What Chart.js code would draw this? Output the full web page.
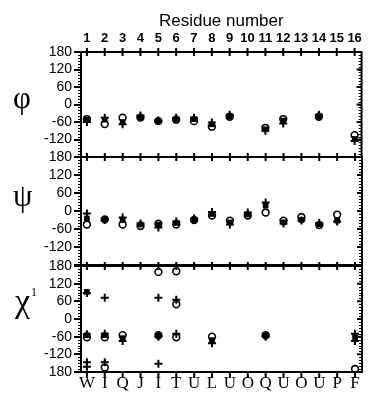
<!DOCTYPE html>
<html>
<head>
<meta charset="utf-8">
<script src="https://cdn.jsdelivr.net/npm/chart.js@4.4.1/dist/chart.umd.min.js"></script>
<style>
	html, body { margin: 0; padding: 0; background: #fff; }
	#wrap { position: relative; width: 368px; height: 395px; overflow: hidden; }
	.layer { position: absolute; left: 0; top: 0; width: 368px; height: 395px; }
	.greek { position: absolute; font-family: "Liberation Serif", "DejaVu Serif", serif; color: #000; line-height: 1; }
	.greek sup { font-size: 12px; position: absolute; left: 100%; top: 2px; margin-left: 1px; }
</style>
</head>
<body>
<div id="wrap">
	<div class="layer"><canvas id="phiChart"></canvas></div>
	<div class="layer"><canvas id="psiChart"></canvas></div>
	<div class="layer"><canvas id="chiChart"></canvas></div>
	<div class="greek" style="left:13px; top:82px; font-size:31px;">φ</div>
	<div class="greek" style="left:13px; top:180px; font-size:31px;">ψ</div>
	<div class="greek" style="left:15px; top:284px; font-size:34px;">χ<sup>1</sup></div>
</div>
<script>
const residues = [1, 2, 3, 4, 5, 6, 7, 8, 9, 10, 11, 12, 13, 14, 15, 16];
const residueLetters = ['W', 'I', 'Q', 'J', 'I', 'T', 'U', 'L', 'U', 'O', 'Q', 'U', 'O', 'U', 'P', 'F'];
const angleTicks = [-180, -120, -60, 0, 60, 120, 180];

// phi (degrees), one value per residue
const phiCircle = [-50, -67, -45, -45, -57, -52, -57, -76, -42, null, -80, -50, null, -42, null, -105];
const phiSquare = [-52, -52, -60, -45, -57, -52, -50, -68, -42, null, -85, -55, null, -42, null, -118];
const phiPlus   = [-60, -45, -68, -38, -55, -45, -45, -62, -35, null, -90, -65, null, -35, null, -125];

// psi (degrees)
const psiCircle = [-45, -28, -45, -50, -42, -45, -30, -15, -32, -15, -5, -32, -20, -47, -12, null];
const psiSquare = [-25, -28, -30, -45, -45, -40, -30, -10, -38, -12, 18, -38, -30, -45, -32, null];
const psiPlus   = [-8, -30, -22, -42, -55, -35, -25, -3, -45, -5, 28, -42, -32, -40, -35, null];

// chi1 (degrees), several conformers per residue
const chiCircle = [[-62], [-62, -165], [-55], [], [160, -55], [162, 50, -62], [], [-60], [], [], [-55], [], [], [], [], [-170]];
const chiSquare = [[92, -55], [-55], [-65], [], [-55], [], [], [-72], [], [], [-55], [], [], [], [], [-62]];
const chiPlus   = [[88, -52, -147, -162], [72, -50, -147], [-75], [], [72, -60, -152], [65, -50], [], [-82], [], [], [-60], [], [], [], [], [-50, -75]];

function toPoints(values) {
	const pts = [];
	values.forEach((v, i) => {
		const list = Array.isArray(v) ? v : [v];
		list.forEach(y => { if (y !== null && y !== undefined) pts.push({ x: residues[i], y: y }); });
	});
	return pts;
}

function seriesSets(circle, square, plus) {
	return [
		{ data: toPoints(plus), pointStyle: 'cross', pointRadius: 4, borderWidth: 2, borderColor: '#000', backgroundColor: '#000', clip: false },
		{ data: toPoints(circle), pointStyle: 'circle', pointRadius: 3.4, borderWidth: 1.6, borderColor: '#000', backgroundColor: 'rgba(0,0,0,0)', clip: false },
		{ data: toPoints(square), pointStyle: 'rect', pointRadius: 4, borderWidth: 0, borderColor: '#000', backgroundColor: '#000', clip: false }
	];
}

const framePlugin = {
	id: 'frame',
	afterDraw(chart, args, opts) {
		const { ctx, chartArea: a, scales } = chart;
		const xs = scales.x, ys = scales.y;
		ctx.save();
		ctx.strokeStyle = '#000';
		// minor ticks, left outside and right inside
		ctx.lineWidth = 1;
		ctx.beginPath();
		for (let v = -180; v <= 180; v += 10) {
			const py = Math.round(ys.getPixelForValue(v)) + 0.5;
			ctx.moveTo(a.left - 3, py); ctx.lineTo(a.left, py);
			ctx.moveTo(a.right, py); ctx.lineTo(a.right - 3, py);
		}
		ctx.stroke();
		ctx.lineWidth = 2;
		ctx.beginPath();
		angleTicks.forEach(v => {
			const py = ys.getPixelForValue(v);
			ctx.moveTo(a.right, py); ctx.lineTo(a.right - 5, py);
		});
		ctx.stroke();
		// frame
		ctx.strokeRect(a.left, a.top, a.right - a.left, a.bottom - a.top);
		// residue ticks
		ctx.beginPath();
		residues.forEach(r => {
			const px = xs.getPixelForValue(r);
			ctx.moveTo(px, a.top - 4); ctx.lineTo(px, a.top + 4);
			if (opts.bottomTicks) { ctx.moveTo(px, a.bottom); ctx.lineTo(px, a.bottom + 6); }
		});
		ctx.stroke();
		ctx.restore();
	}
};

function makeChart(id, datasets, cfg) {
	return new Chart(document.getElementById(id), {
		type: 'scatter',
		data: { datasets: datasets },
		options: {
			responsive: true,
			maintainAspectRatio: false,
			animation: false,
			events: [],
			layout: { padding: cfg.padding },
			plugins: {
				legend: { display: false },
				tooltip: { enabled: false },
				frame: { bottomTicks: cfg.bottomTicks }
			},
			scales: {
				x: {
					type: 'linear',
					min: 0.67,
					max: 16.39,
					display: cfg.xDisplay,
					position: cfg.xPosition,
					afterBuildTicks: s => { s.ticks = residues.map(v => ({ value: v })); },
					afterFit: s => { s.height = cfg.xHeight; },
					grid: { display: false, drawTicks: false },
					border: { display: false },
					ticks: {
						autoSkip: false,
						maxRotation: 0,
						minRotation: 0,
						padding: cfg.xPad,
						color: '#000',
						font: cfg.xFont,
						callback: cfg.xLabel
					},
					title: cfg.xTitle
				},
				y: {
					min: -180,
					max: 180,
					afterFit: s => { s.width = 81; },
					grid: { drawOnChartArea: false, drawTicks: true, tickLength: 7, lineWidth: 2, color: '#000' },
					border: { display: false },
					ticks: {
						stepSize: 60,
						autoSkip: false,
						padding: 2,
						color: '#000',
						font: { family: '"Liberation Sans", Arial, sans-serif', size: 14 },
						callback: v => v === -180 ? cfg.bottomLabel : String(v)
					}
				}
			}
		},
		plugins: [framePlugin]
	});
}

makeChart('phiChart', seriesSets(phiCircle, phiSquare, phiPlus), {
	padding: { top: 0, left: 0, right: 3, bottom: 238 },
	xDisplay: true,
	xPosition: 'top',
	xHeight: 52,
	xPad: 6,
	xFont: { family: '"Liberation Sans", Arial, sans-serif', size: 13, weight: 'bold' },
	xLabel: v => String(v),
	xTitle: { display: true, text: 'Residue number', color: '#000', padding: { top: 11, bottom: 0 },
		font: { family: '"Liberation Sans", Arial, sans-serif', size: 17 } },
	bottomTicks: false,
	bottomLabel: ''
});

makeChart('psiChart', seriesSets(psiCircle, psiSquare, psiPlus), {
	padding: { top: 157, left: 0, right: 3, bottom: 130 },
	xDisplay: false,
	xPosition: 'bottom',
	xHeight: 0,
	xPad: 0,
	xFont: { size: 12 },
	xLabel: v => '',
	xTitle: { display: false },
	bottomTicks: false,
	bottomLabel: ''
});

makeChart('chiChart', seriesSets(chiCircle, chiSquare, chiPlus), {
	padding: { top: 266, left: 0, right: 3, bottom: 0 },
	xDisplay: true,
	xPosition: 'bottom',
	xHeight: 23,
	xPad: 1,
	xFont: { family: '"Liberation Serif", "Times New Roman", serif', size: 17 },
	xLabel: (v, i) => residueLetters[i],
	xTitle: { display: false },
	bottomTicks: true,
	bottomLabel: '180'
});
</script>
</body>
</html>
